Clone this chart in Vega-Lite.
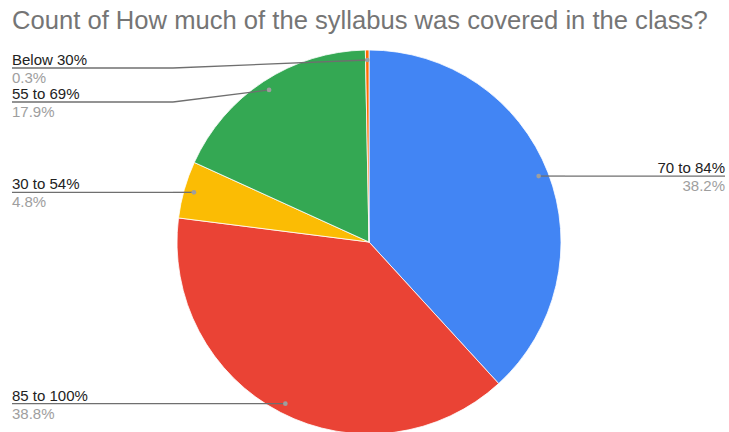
{
  "$schema": "https://vega.github.io/schema/vega-lite/v6.json",
  "width": 714,
  "height": 380,
  "autosize": {"type": "none"},
  "padding": {"left": 12, "top": 52, "right": 3, "bottom": 0},
  "background": "white",
  "config": {"view": {"stroke": null}},
  "title": {
    "text": "Count of How much of the syllabus was covered in the class?",
    "anchor": "start",
    "frame": "group",
    "font": "Liberation Sans",
    "fontSize": 25.6,
    "fontWeight": "normal",
    "color": "#757575",
    "baseline": "alphabetic",
    "offset": 21,
    "dy": 27
  },
  "data": {
    "values": [
      {"category": "70 to 84%", "value": 38.2, "rank": 1},
      {"category": "85 to 100%", "value": 38.8, "rank": 2},
      {"category": "30 to 54%", "value": 4.8, "rank": 3},
      {"category": "55 to 69%", "value": 17.9, "rank": 4},
      {"category": "Below 30%", "value": 0.3, "rank": 5}
    ]
  },
  "transform": [
    {"stack": "value", "groupby": [], "sort": [{"field": "rank"}], "as": ["v0", "v1"]},
    {"joinaggregate": [{"op": "sum", "field": "value", "as": "tot"}]},
    {"calculate": "PI * (datum.v0 + datum.v1) / datum.tot", "as": "mid"},
    {"calculate": "182 * sin(datum.mid)", "as": "dx"},
    {"calculate": "-182 * cos(datum.mid)", "as": "dy"},
    {"calculate": "datum.dx < 0 ? 'left' : 'right'", "as": "side"},
    {"calculate": "datum.dx < 0 ? -357 : 356", "as": "lx"},
    {"calculate": "datum.dx < 0 ? -196 : 196", "as": "ex"},
    {"calculate": "max(datum.dy, -174)", "as": "dyc"},
    {"window": [{"op": "row_number", "as": "idx"}], "groupby": ["side"], "sort": [{"field": "dy"}]},
    {"calculate": "datum.dyc - 34 * datum.idx", "as": "tt"},
    {"window": [{"op": "max", "field": "tt", "as": "cm"}], "groupby": ["side"], "sort": [{"field": "dy"}], "frame": [null, 0]},
    {"calculate": "datum.cm + 34 * datum.idx", "as": "ly"},
    {"calculate": "datum.value / datum.tot", "as": "frac"}
  ],
  "layer": [
    {
      "mark": {"type": "arc", "outerRadius": 192, "stroke": "white", "strokeWidth": 0.8},
      "encoding": {
        "theta": {"field": "value", "type": "quantitative", "stack": true},
        "order": {"field": "rank", "type": "quantitative"},
        "color": {
          "field": "category",
          "type": "nominal",
          "legend": null,
          "scale": {
            "domain": ["70 to 84%", "85 to 100%", "30 to 54%", "55 to 69%", "Below 30%"],
            "range": ["#4285F4", "#EA4335", "#FBBC04", "#34A853", "#FF6D01"]
          }
        }
      }
    },
    {
      "mark": {"type": "rule", "color": "#6f6f6f", "strokeWidth": 1.3},
      "encoding": {
        "x": {"field": "dx", "type": "quantitative", "axis": null, "scale": {"domain": [-357, 357]}},
        "x2": {"field": "ex"},
        "y": {"field": "dy", "type": "quantitative", "axis": null, "scale": {"domain": [-190, 190], "reverse": true}},
        "y2": {"field": "ly"}
      }
    },
    {
      "mark": {"type": "rule", "color": "#6f6f6f", "strokeWidth": 1.3},
      "encoding": {
        "x": {"field": "ex", "type": "quantitative", "axis": null, "scale": {"domain": [-357, 357]}},
        "x2": {"field": "lx"},
        "y": {"field": "ly", "type": "quantitative", "axis": null, "scale": {"domain": [-190, 190], "reverse": true}}
      }
    },
    {
      "mark": {"type": "point", "filled": true, "color": "#9e9e9e", "size": 22, "opacity": 1},
      "encoding": {
        "x": {"field": "dx", "type": "quantitative", "axis": null, "scale": {"domain": [-357, 357]}},
        "y": {"field": "dy", "type": "quantitative", "axis": null, "scale": {"domain": [-190, 190], "reverse": true}}
      }
    },
    {
      "transform": [{"filter": "datum.side == 'left'"}],
      "mark": {"type": "text", "align": "left", "baseline": "alphabetic", "dy": -3, "font": "Liberation Sans", "fontSize": 15, "color": "#222222"},
      "encoding": {
        "x": {"field": "lx", "type": "quantitative", "axis": null, "scale": {"domain": [-357, 357]}},
        "y": {"field": "ly", "type": "quantitative", "axis": null, "scale": {"domain": [-190, 190], "reverse": true}},
        "text": {"field": "category"}
      }
    },
    {
      "transform": [{"filter": "datum.side == 'left'"}],
      "mark": {"type": "text", "align": "left", "baseline": "alphabetic", "dy": 15, "font": "Liberation Sans", "fontSize": 15, "color": "#9e9e9e"},
      "encoding": {
        "x": {"field": "lx", "type": "quantitative", "axis": null, "scale": {"domain": [-357, 357]}},
        "y": {"field": "ly", "type": "quantitative", "axis": null, "scale": {"domain": [-190, 190], "reverse": true}},
        "text": {"field": "frac", "type": "quantitative", "format": ".1%"}
      }
    },
    {
      "transform": [{"filter": "datum.side == 'right'"}],
      "mark": {"type": "text", "align": "right", "baseline": "alphabetic", "dy": -3, "font": "Liberation Sans", "fontSize": 15, "color": "#222222"},
      "encoding": {
        "x": {"field": "lx", "type": "quantitative", "axis": null, "scale": {"domain": [-357, 357]}},
        "y": {"field": "ly", "type": "quantitative", "axis": null, "scale": {"domain": [-190, 190], "reverse": true}},
        "text": {"field": "category"}
      }
    },
    {
      "transform": [{"filter": "datum.side == 'right'"}],
      "mark": {"type": "text", "align": "right", "baseline": "alphabetic", "dy": 15, "font": "Liberation Sans", "fontSize": 15, "color": "#9e9e9e"},
      "encoding": {
        "x": {"field": "lx", "type": "quantitative", "axis": null, "scale": {"domain": [-357, 357]}},
        "y": {"field": "ly", "type": "quantitative", "axis": null, "scale": {"domain": [-190, 190], "reverse": true}},
        "text": {"field": "frac", "type": "quantitative", "format": ".1%"}
      }
    }
  ]
}
